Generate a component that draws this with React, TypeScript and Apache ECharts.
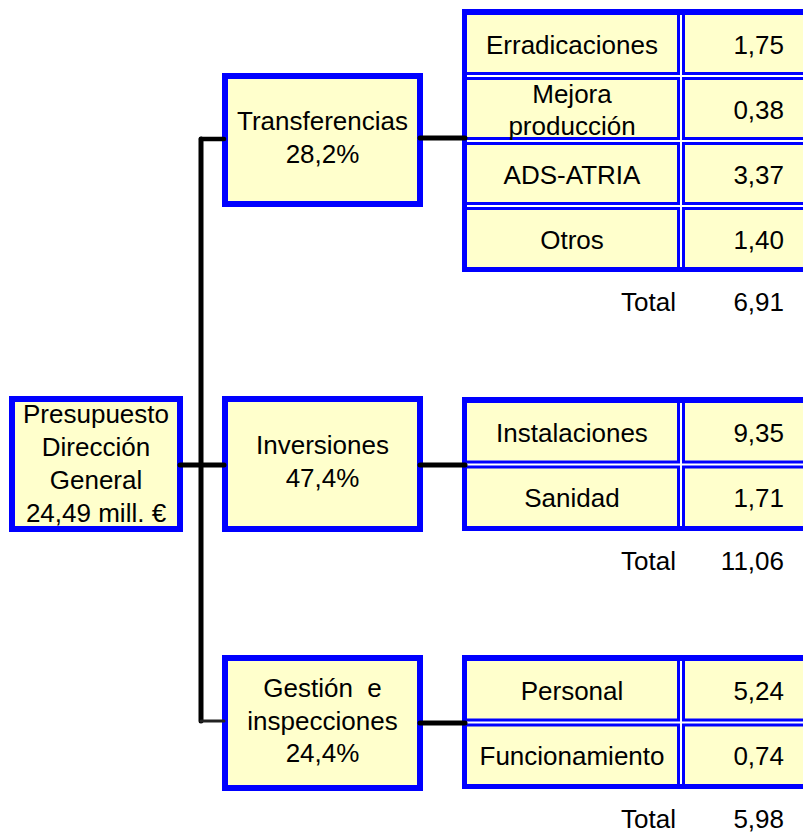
import React, { useEffect, useRef } from "react";
import * as echarts from "echarts";

// ---- data ----
const rootLines = ["Presupuesto", "Dirección", "General"];
const rootTotal = 24.49; // mill. €
const branchNames = ["Transferencias", "Inversiones", "Gestión  e\ninspecciones"];
const branchShares = [28.2, 47.4, 24.4];
const transferItems = ["Erradicaciones", "Mejora\nproducción", "ADS-ATRIA", "Otros"];
const transferValues = [1.75, 0.38, 3.37, 1.4];
const inversionItems = ["Instalaciones", "Sanidad"];
const inversionValues = [9.35, 1.71];
const gestionItems = ["Personal", "Funcionamiento"];
const gestionValues = [5.24, 0.74];
const branchTotals = [6.91, 11.06, 5.98];
const totalLabel = "Total";

// ---- style / layout ----
const BLUE = "#0000FF";
const YELLOW = "#FFFFCC";
const FONT = "Liberation Sans, Arial, Helvetica, sans-serif";
const FS = 26;

const fmt = (v: number, d = 2) => v.toFixed(d).replace(".", ",");

function txt(text: string, x: number, y: number, align: string, lh = 32) {
  return {
    type: "text",
    z: 10,
    style: {
      text,
      x,
      y,
      fill: "#000",
      fontSize: FS,
      fontFamily: FONT,
      align,
      verticalAlign: "middle",
      textAlign: align,
      textVerticalAlign: "middle",
      lineHeight: lh,
    },
  };
}

function line(x1: number, y1: number, x2: number, y2: number, w = 5, color = "#000") {
  return {
    type: "line",
    z: 5,
    shape: { x1, y1, x2, y2 },
    style: { stroke: color, lineWidth: w, lineCap: "round" },
  };
}

function box(x0: number, y0: number, x1: number, y1: number, bw = 6) {
  return {
    type: "rect",
    z: 2,
    shape: { x: x0 + bw / 2, y: y0 + bw / 2, width: x1 - x0 - bw, height: y1 - y0 - bw },
    style: { fill: YELLOW, stroke: BLUE, lineWidth: bw },
  };
}

function table(items: string[], values: number[], total: number, top: number, bottom: number) {
  const TL = 462, TR = 812;
  const els: any[] = [];
  els.push({ type: "rect", z: 1, shape: { x: TL, y: top, width: TR - TL, height: bottom - top }, style: { fill: BLUE } });
  const x0 = TL + 5, y0 = top + 6, y1 = bottom - 5;
  const n = items.length;
  const gap = 8;
  const rowH = (y1 - y0 - gap * (n - 1)) / n;
  const colL = 677, colR = 685;
  for (let i = 0; i < n; i++) {
    const ry = y0 + i * (rowH + gap);
    els.push({ type: "rect", z: 3, shape: { x: x0, y: ry, width: colL - x0, height: rowH }, style: { fill: YELLOW } });
    els.push({ type: "rect", z: 3, shape: { x: colR, y: ry, width: TR - colR, height: rowH }, style: { fill: YELLOW } });
    if (i < n - 1) {
      els.push({ type: "rect", z: 4, shape: { x: x0, y: ry + rowH + 3, width: TR - x0, height: 2 }, style: { fill: "#fff" } });
    }
    els.push(txt(items[i], (x0 + colL) / 2, ry + rowH / 2 + 1, "center"));
    els.push(txt(fmt(values[i]), 784, ry + rowH / 2 + 1, "right"));
  }
  els.push({ type: "rect", z: 4, shape: { x: 680, y: y0, width: 2, height: y1 - y0 }, style: { fill: "#fff" } });
  els.push(txt(totalLabel, 676, bottom + 30, "right"));
  els.push(txt(fmt(total), 784, bottom + 30, "right"));
  return els;
}

export default function App() {
  const ref = useRef<HTMLDivElement>(null);
  useEffect(() => {
    document.body.style.margin = "0";
    const chart = echarts.init(ref.current!, undefined, { renderer: "svg" });
    const branchBoxes = [
      { top: 73, bottom: 207 },
      { top: 396, bottom: 532 },
      { top: 655, bottom: 791 },
    ];
    const tables = [
      { top: 9, bottom: 272, items: transferItems, values: transferValues },
      { top: 397, bottom: 531, items: inversionItems, values: inversionValues },
      { top: 655, bottom: 789, items: gestionItems, values: gestionValues },
    ];
    const els: any[] = [];
    // root
    els.push(box(9, 396, 183, 532));
    els.push(txt([...rootLines, fmt(rootTotal) + " mill. €"].join("\n"), 96, 463, "center", 33));
    // branches
    branchBoxes.forEach((b, i) => {
      els.push(box(222, b.top, 423, b.bottom));
      const cy = (b.top + b.bottom) / 2 - 2.5;
      els.push(txt(branchNames[i] + "\n" + fmt(branchShares[i], 1) + "%", 322.5, cy, "center", 32.5));
      const t = tables[i];
      els.push(...table(t.items, t.values, branchTotals[i], t.top, t.bottom));
    });
    // connectors
    els.push(line(201, 139, 201, 721, 5));
    els.push(line(201, 139, 224, 139, 4.5));
    els.push(line(180, 465, 224, 465, 5));
    els.push(line(201, 721, 224, 721, 3, "#222"));
    els.push(line(420, 138, 465, 138, 5));
    els.push(line(420, 465, 465, 465, 5));
    els.push(line(420, 723, 465, 723, 5));

    chart.setOption({
      animation: false,
      backgroundColor: "#ffffff",
      graphic: { elements: els },
    });
    return () => chart.dispose();
  }, []);
  return <div ref={ref} style={{ width: 803, height: 834 }} />;
}
